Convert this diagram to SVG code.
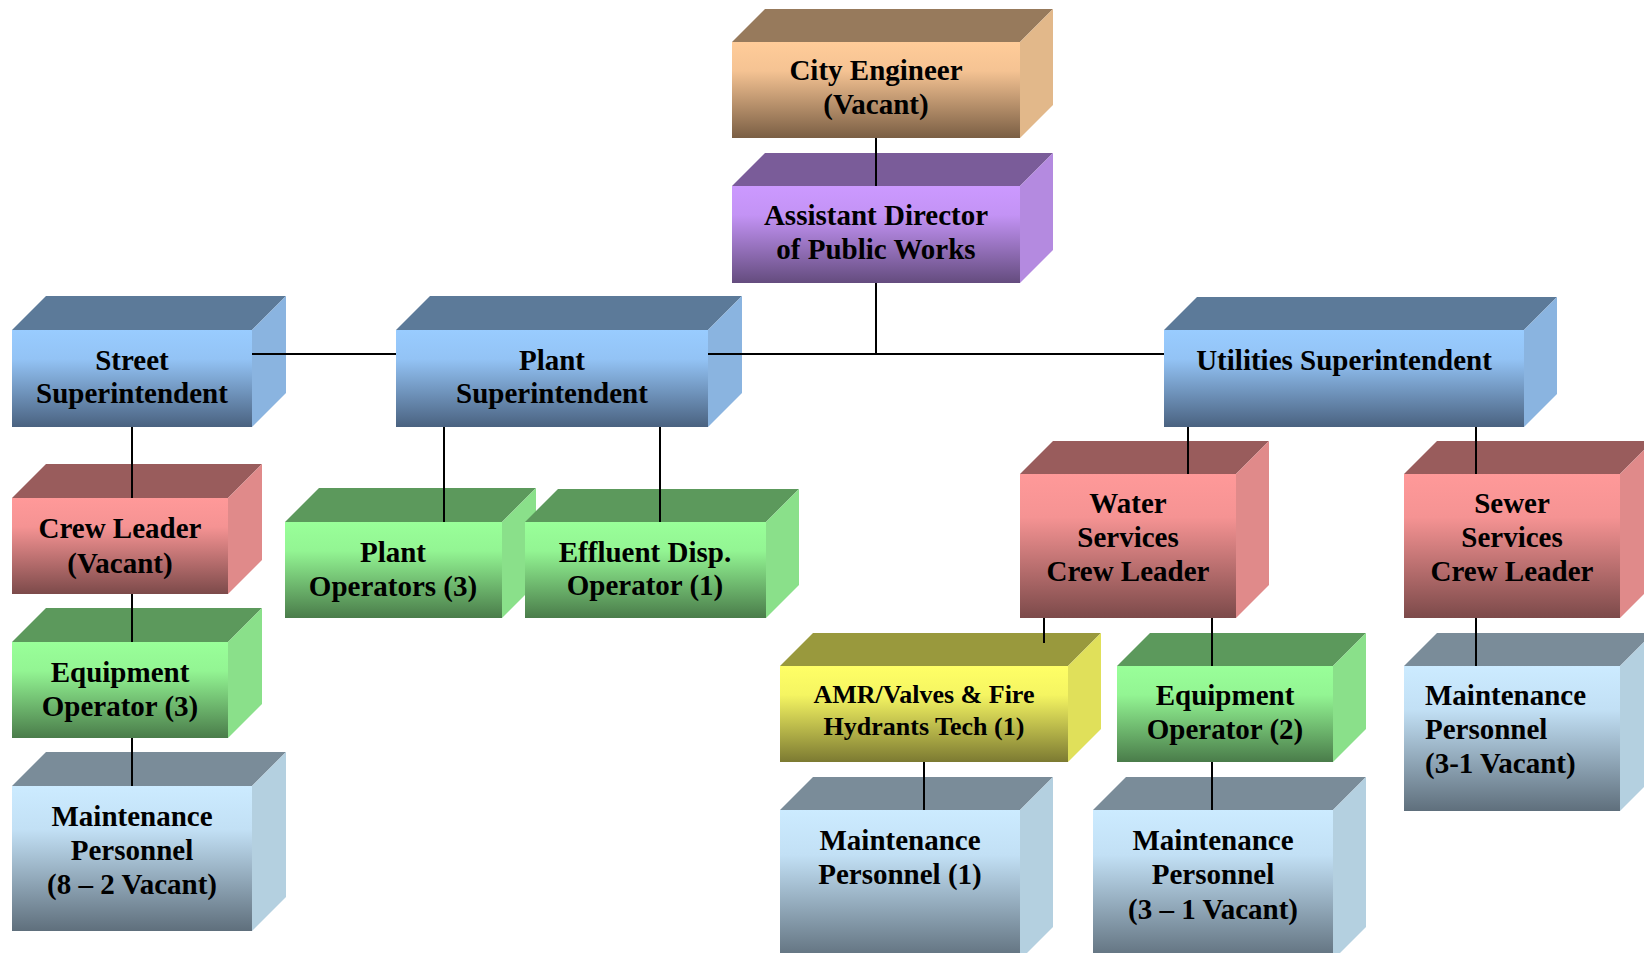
<svg xmlns="http://www.w3.org/2000/svg" width="1644" height="953" viewBox="0 0 1644 953">
  <defs>
    <linearGradient id="gPeach" x1="0" y1="0" x2="0" y2="1">
      <stop offset="0" stop-color="#FFCC99"/><stop offset="0.3" stop-color="#F5C393"/><stop offset="1" stop-color="#7A5E44"/>
    </linearGradient>
    <linearGradient id="gPurple" x1="0" y1="0" x2="0" y2="1">
      <stop offset="0" stop-color="#CC99FF"/><stop offset="0.3" stop-color="#C393F5"/><stop offset="1" stop-color="#644C7E"/>
    </linearGradient>
    <linearGradient id="gBlue" x1="0" y1="0" x2="0" y2="1">
      <stop offset="0" stop-color="#99CCFF"/><stop offset="0.3" stop-color="#93C3F5"/><stop offset="1" stop-color="#4A6280"/>
    </linearGradient>
    <linearGradient id="gRed" x1="0" y1="0" x2="0" y2="1">
      <stop offset="0" stop-color="#FF9999"/><stop offset="0.3" stop-color="#F59393"/><stop offset="1" stop-color="#7C4A4A"/>
    </linearGradient>
    <linearGradient id="gGreen" x1="0" y1="0" x2="0" y2="1">
      <stop offset="0" stop-color="#99FF99"/><stop offset="0.3" stop-color="#93F593"/><stop offset="1" stop-color="#4A7C4A"/>
    </linearGradient>
    <linearGradient id="gYellow" x1="0" y1="0" x2="0" y2="1">
      <stop offset="0" stop-color="#FFFF66"/><stop offset="0.3" stop-color="#F5F562"/><stop offset="1" stop-color="#7C7A32"/>
    </linearGradient>
    <linearGradient id="gPale" x1="0" y1="0" x2="0" y2="1">
      <stop offset="0" stop-color="#CCEBFF"/><stop offset="0.3" stop-color="#C2E0F5"/><stop offset="1" stop-color="#5F6F7C"/>
    </linearGradient>
  </defs>
  <style>
    .peach .front{fill:url(#gPeach)} .peach .top{fill:#977A5C} .peach .side{fill:#E2B88A}
    .purple .front{fill:url(#gPurple)} .purple .top{fill:#7A5C99} .purple .side{fill:#B48AE0}
    .blue .front{fill:url(#gBlue)} .blue .top{fill:#5C7A99} .blue .side{fill:#8AB4E0}
    .red .front{fill:url(#gRed)} .red .top{fill:#995C5C} .red .side{fill:#E08A8A}
    .green .front{fill:url(#gGreen)} .green .top{fill:#5C995C} .green .side{fill:#8AE08A}
    .yellow .front{fill:url(#gYellow)} .yellow .top{fill:#99993D} .yellow .side{fill:#E0E05A}
    .pale .front{fill:url(#gPale)} .pale .top{fill:#7A8C99} .pale .side{fill:#B4D0E0}
    text{font-family:"Liberation Serif","Times New Roman",serif;font-weight:bold;font-size:29px;fill:#000;text-anchor:middle}
    text.small{font-size:26px}
    text.left{text-anchor:start}
    .conn line{stroke:#000;stroke-width:2}
  </style>

  <!-- boxes: top face, side face, front face, label -->
  <g id="city-engineer" class="peach">
    <polygon class="top" points="732,42 765,9 1053,9 1020,42"/>
    <polygon class="side" points="1020,42 1053,9 1053,105 1020,138"/>
    <rect class="front" x="732" y="42" width="288" height="96"/>
    <text x="876"><tspan x="876" y="80">City Engineer</tspan><tspan x="876" y="114">(Vacant)</tspan></text>
  </g>

  <g id="assistant-director" class="purple">
    <polygon class="top" points="732,186 765,153 1053,153 1020,186"/>
    <polygon class="side" points="1020,186 1053,153 1053,250 1020,283"/>
    <rect class="front" x="732" y="186" width="288" height="97"/>
    <text><tspan x="876" y="225">Assistant Director</tspan><tspan x="876" y="259">of Public Works</tspan></text>
  </g>

  <g id="street-superintendent" class="blue">
    <polygon class="top" points="12,330 46,296 286,296 252,330"/>
    <polygon class="side" points="252,330 286,296 286,393 252,427"/>
    <rect class="front" x="12" y="330" width="240" height="97"/>
    <text><tspan x="132" y="370">Street</tspan><tspan x="132" y="403">Superintendent</tspan></text>
  </g>

  <g id="plant-superintendent" class="blue">
    <polygon class="top" points="396,330 430,296 742,296 708,330"/>
    <polygon class="side" points="708,330 742,296 742,393 708,427"/>
    <rect class="front" x="396" y="330" width="312" height="97"/>
    <text><tspan x="552" y="370">Plant</tspan><tspan x="552" y="403">Superintendent</tspan></text>
  </g>

  <g id="utilities-superintendent" class="blue">
    <polygon class="top" points="1164,330 1197,297 1557,297 1524,330"/>
    <polygon class="side" points="1524,330 1557,297 1557,394 1524,427"/>
    <rect class="front" x="1164" y="330" width="360" height="97"/>
    <text><tspan x="1344" y="370">Utilities Superintendent</tspan></text>
  </g>

  <g id="street-crew-leader" class="red">
    <polygon class="top" points="12,498 46,464 262,464 228,498"/>
    <polygon class="side" points="228,498 262,464 262,560 228,594"/>
    <rect class="front" x="12" y="498" width="216" height="96"/>
    <text><tspan x="120" y="538">Crew Leader</tspan><tspan x="120" y="573">(Vacant)</tspan></text>
  </g>

  <g id="plant-operators" class="green">
    <polygon class="top" points="285,522 319,488 536,488 502,522"/>
    <polygon class="side" points="502,522 536,488 536,584 502,618"/>
    <rect class="front" x="285" y="522" width="217" height="96"/>
    <text><tspan x="393" y="562">Plant</tspan><tspan x="393" y="596">Operators (3)</tspan></text>
  </g>

  <g id="effluent-operator" class="green">
    <polygon class="top" points="525,522 558,489 799,489 766,522"/>
    <polygon class="side" points="766,522 799,489 799,585 766,618"/>
    <rect class="front" x="525" y="522" width="241" height="96"/>
    <text><tspan x="645" y="562">Effluent Disp.</tspan><tspan x="645" y="595">Operator (1)</tspan></text>
  </g>

  <g id="water-crew-leader" class="red">
    <polygon class="top" points="1020,474 1053,441 1269,441 1236,474"/>
    <polygon class="side" points="1236,474 1269,441 1269,585 1236,618"/>
    <rect class="front" x="1020" y="474" width="216" height="144"/>
    <text><tspan x="1128" y="513">Water</tspan><tspan x="1128" y="547">Services</tspan><tspan x="1128" y="581">Crew Leader</tspan></text>
  </g>

  <g id="sewer-crew-leader" class="red">
    <polygon class="top" points="1404,474 1437,441 1653,441 1620,474"/>
    <polygon class="side" points="1620,474 1653,441 1653,585 1620,618"/>
    <rect class="front" x="1404" y="474" width="216" height="144"/>
    <text><tspan x="1512" y="513">Sewer</tspan><tspan x="1512" y="547">Services</tspan><tspan x="1512" y="581">Crew Leader</tspan></text>
  </g>

  <g id="street-equipment-operator" class="green">
    <polygon class="top" points="12,642 46,608 262,608 228,642"/>
    <polygon class="side" points="228,642 262,608 262,704 228,738"/>
    <rect class="front" x="12" y="642" width="216" height="96"/>
    <text><tspan x="120" y="682">Equipment</tspan><tspan x="120" y="716">Operator (3)</tspan></text>
  </g>

  <g id="street-maintenance" class="pale">
    <polygon class="top" points="12,786 46,752 286,752 252,786"/>
    <polygon class="side" points="252,786 286,752 286,897 252,931"/>
    <rect class="front" x="12" y="786" width="240" height="145"/>
    <text><tspan x="132" y="826">Maintenance</tspan><tspan x="132" y="860">Personnel</tspan><tspan x="132" y="894">(8 – 2 Vacant)</tspan></text>
  </g>

  <g id="amr-tech" class="yellow">
    <polygon class="top" points="780,666 813,633 1101,633 1068,666"/>
    <polygon class="side" points="1068,666 1101,633 1101,729 1068,762"/>
    <rect class="front" x="780" y="666" width="288" height="96"/>
    <text class="small"><tspan x="924" y="703">AMR/Valves &amp; Fire</tspan><tspan x="924" y="735">Hydrants Tech (1)</tspan></text>
  </g>

  <g id="water-equipment-operator" class="green">
    <polygon class="top" points="1117,666 1150,633 1366,633 1333,666"/>
    <polygon class="side" points="1333,666 1366,633 1366,729 1333,762"/>
    <rect class="front" x="1117" y="666" width="216" height="96"/>
    <text><tspan x="1225" y="705">Equipment</tspan><tspan x="1225" y="739">Operator (2)</tspan></text>
  </g>

  <g id="water-maintenance-1" class="pale">
    <polygon class="top" points="780,810 813,777 1053,777 1020,810"/>
    <polygon class="side" points="1020,810 1053,777 1053,927 1020,960"/>
    <rect class="front" x="780" y="810" width="240" height="150"/>
    <text><tspan x="900" y="850">Maintenance</tspan><tspan x="900" y="884">Personnel (1)</tspan></text>
  </g>

  <g id="water-maintenance-3" class="pale">
    <polygon class="top" points="1093,810 1126,777 1366,777 1333,810"/>
    <polygon class="side" points="1333,810 1366,777 1366,927 1333,960"/>
    <rect class="front" x="1093" y="810" width="240" height="150"/>
    <text><tspan x="1213" y="850">Maintenance</tspan><tspan x="1213" y="884">Personnel</tspan><tspan x="1213" y="919">(3 – 1 Vacant)</tspan></text>
  </g>

  <g id="sewer-maintenance" class="pale">
    <polygon class="top" points="1404,666 1437,633 1653,633 1620,666"/>
    <polygon class="side" points="1620,666 1653,633 1653,778 1620,811"/>
    <rect class="front" x="1404" y="666" width="216" height="145"/>
    <text class="left"><tspan x="1425" y="705">Maintenance</tspan><tspan x="1425" y="739">Personnel</tspan><tspan x="1425" y="773">(3-1 Vacant)</tspan></text>
  </g>

  <!-- reporting lines -->
  <g id="connectors" class="conn">
    <line x1="876" y1="138" x2="876" y2="186"/>
    <line x1="876" y1="283" x2="876" y2="354"/>
    <line x1="252" y1="354" x2="396" y2="354"/>
    <line x1="708" y1="354" x2="1164" y2="354"/>
    <line x1="132" y1="427" x2="132" y2="498"/>
    <line x1="132" y1="594" x2="132" y2="642"/>
    <line x1="132" y1="738" x2="132" y2="786"/>
    <line x1="444" y1="427" x2="444" y2="522"/>
    <line x1="660" y1="427" x2="660" y2="522"/>
    <line x1="1188" y1="427" x2="1188" y2="474"/>
    <line x1="1476" y1="427" x2="1476" y2="474"/>
    <line x1="1044" y1="618" x2="1044" y2="643"/>
    <line x1="1212" y1="618" x2="1212" y2="666"/>
    <line x1="1476" y1="618" x2="1476" y2="666"/>
    <line x1="924" y1="762" x2="924" y2="810"/>
    <line x1="1212" y1="762" x2="1212" y2="810"/>
  </g>
</svg>
